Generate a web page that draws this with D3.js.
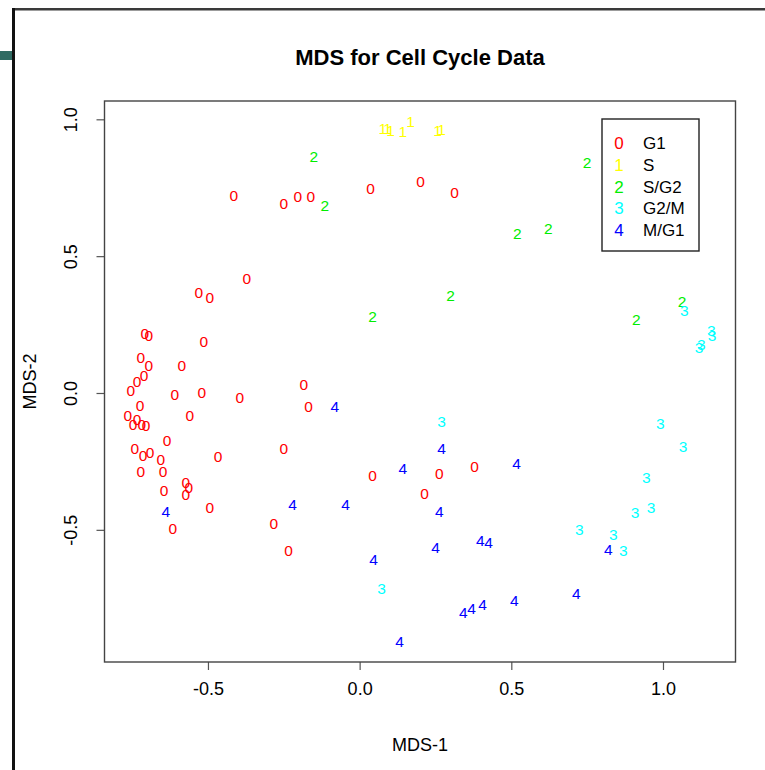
<!DOCTYPE html>
<html>
<head>
<meta charset="utf-8">
<script src="https://cdn.jsdelivr.net/npm/d3@7/dist/d3.min.js"></script>
<style>
  body { margin: 0; background: #ffffff; }
  text { font-family: "Liberation Sans", Arial, Helvetica, sans-serif; }
</style>
</head>
<body>
<svg id="chart" width="765" height="770"></svg>
<script>
// Cell-cycle phase codes, names and plotting colours
const phaseCodes  = ["0", "1", "2", "3", "4"];
const phaseNames  = ["G1", "S", "S/G2", "G2/M", "M/G1"];
const phaseColors = ["#ff0000", "#ffff00", "#00ee00", "#00ffff", "#0000ff"];

// MDS coordinates, one pair of arrays per phase
const g1Mds1 = [-0.415, -0.250, -0.204, -0.161, 0.036, 0.201, 0.313, -0.372, -0.530, -0.494,
                -0.708, -0.695, -0.514, -0.721, -0.695, -0.586, -0.711, -0.734, -0.754, -0.609,
                -0.520, -0.395, -0.184, -0.168, -0.724, -0.560, -0.764, -0.734, -0.747, -0.718,
                -0.704, -0.635, -0.741, -0.714, -0.691, -0.655, -0.467, -0.250, -0.721, -0.648,
                -0.573, -0.563, -0.573, -0.645, -0.494, -0.616, -0.283, -0.234, 0.043, 0.263,
                0.379, 0.214];
const g1Mds2 = [0.721, 0.692, 0.717, 0.717, 0.746, 0.772, 0.732, 0.418, 0.367, 0.349,
                0.217, 0.210, 0.188, 0.130, 0.100, 0.100, 0.064, 0.042, 0.009, -0.005,
                0.002, -0.016, 0.031, -0.049, -0.046, -0.082, -0.082, -0.097, -0.115, -0.115,
                -0.119, -0.173, -0.203, -0.228, -0.217, -0.243, -0.232, -0.203, -0.286, -0.286,
                -0.327, -0.345, -0.370, -0.356, -0.418, -0.495, -0.476, -0.575, -0.301, -0.294,
                -0.268, -0.367];

const sMds1 = [0.076, 0.092, 0.102, 0.142, 0.168, 0.257, 0.270];
const sMds2 = [0.965, 0.965, 0.958, 0.954, 0.991, 0.958, 0.962];

const sg2Mds1 = [-0.151, -0.115, 0.750, 0.520, 0.622, 0.300, 0.043, 1.063, 0.912];
const sg2Mds2 = [0.863, 0.684, 0.841, 0.582, 0.600, 0.356, 0.279, 0.334, 0.268];

const g2mMds1 = [1.070, 1.159, 1.162, 1.126, 1.119, 0.991, 1.066, 0.945, 0.961, 0.908,
                 0.724, 0.836, 0.869, 0.270, 0.072];
const g2mMds2 = [0.301, 0.228, 0.210, 0.177, 0.166, -0.111, -0.195, -0.308, -0.418, -0.436,
                 -0.498, -0.516, -0.575, -0.104, -0.714];

const mg1Mds1 = [-0.082, 0.270, 0.517, 0.142, -0.221, -0.046, -0.639, 0.263, 0.398, 0.425,
                 0.250, 0.046, 0.342, 0.369, 0.405, 0.510, 0.714, 0.820, 0.132];
const mg1Mds2 = [-0.049, -0.203, -0.257, -0.276, -0.407, -0.407, -0.432, -0.432, -0.538, -0.546,
                 -0.564, -0.608, -0.801, -0.786, -0.772, -0.757, -0.732, -0.571, -0.907];

// Axis ticks and their printed labels
const xTicks = [-0.5, 0.0, 0.5, 1.0];
const xTickLabels = ["-0.5", "0.0", "0.5", "1.0"];
const yTicks = [-0.5, 0.0, 0.5, 1.0];
const yTickLabels = ["-0.5", "0.0", "0.5", "1.0"];

const mds1ByPhase = [g1Mds1, sMds1, sg2Mds1, g2mMds1, mg1Mds1];
const mds2ByPhase = [g1Mds2, sMds2, sg2Mds2, g2mMds2, mg1Mds2];

const points = [];
mds1ByPhase.forEach((xs, k) => {
  xs.forEach((x, i) => points.push({ phase: k, x: x, y: mds2ByPhase[k][i] }));
});

// Plot region
const box = { left: 104.5, right: 735.5, top: 101, bottom: 662 };

// Axis ranges extended by 4% on each side
function padded(vals) {
  const [lo, hi] = d3.extent(vals);
  const p = (hi - lo) * 0.04;
  return [lo - p, hi + p];
}
const x = d3.scaleLinear().domain(padded(points.map(d => d.x))).range([box.left, box.right]);
const y = d3.scaleLinear().domain(padded(points.map(d => d.y))).range([box.bottom, box.top]);

const svg = d3.select("#chart");

// Slide frame
svg.append("rect").attr("x", 0).attr("y", 0).attr("width", 765).attr("height", 770).attr("fill", "#ffffff");
svg.append("rect").attr("x", 12).attr("y", 8).attr("width", 753).attr("height", 2.5).attr("fill", "#3a3a3a");
svg.append("rect").attr("x", 12).attr("y", 8).attr("width", 3).attr("height", 762).attr("fill", "#111111");
svg.append("rect").attr("x", 0).attr("y", 51).attr("width", 12).attr("height", 9).attr("fill", "#2f6b63");

// Title
svg.append("text")
  .attr("x", (box.left + box.right) / 2).attr("y", 57)
  .attr("text-anchor", "middle").attr("dy", "0.35em")
  .attr("font-size", 22).attr("font-weight", "bold").attr("fill", "#000")
  .text("MDS for Cell Cycle Data");

// Axes
const xAxis = svg.append("g")
  .attr("transform", `translate(0,${box.bottom})`)
  .call(d3.axisBottom(x).tickValues(xTicks).tickSize(8).tickPadding(12)
        .tickFormat((d, i) => xTickLabels[i]));
xAxis.select(".domain").remove();
xAxis.selectAll(".tick line").attr("stroke", "#555").attr("stroke-width", 1.2);
xAxis.selectAll(".tick text").attr("font-size", 18).attr("fill", "#000")
  .attr("font-family", "'Liberation Sans', Arial, sans-serif");

const yAxis = svg.append("g")
  .attr("transform", `translate(${box.left},0)`)
  .call(d3.axisLeft(y).tickValues(yTicks).tickSize(8).tickFormat((d, i) => yTickLabels[i]));
yAxis.select(".domain").remove();
yAxis.selectAll(".tick line").attr("stroke", "#555").attr("stroke-width", 1.2);
yAxis.selectAll(".tick text")
  .attr("font-size", 18).attr("fill", "#000")
  .attr("font-family", "'Liberation Sans', Arial, sans-serif")
  .attr("x", 0).attr("dy", "0.35em")
  .attr("text-anchor", "middle")
  .attr("transform", "translate(-34,0) rotate(-90)");

// Plot box
svg.append("rect")
  .attr("x", box.left).attr("y", box.top)
  .attr("width", box.right - box.left).attr("height", box.bottom - box.top)
  .attr("fill", "none").attr("stroke", "#444").attr("stroke-width", 1.4);

// Axis titles
svg.append("text")
  .attr("x", (box.left + box.right) / 2).attr("y", 745)
  .attr("text-anchor", "middle").attr("dy", "0.35em")
  .attr("font-size", 18).attr("fill", "#000").text("MDS-1");
svg.append("text")
  .attr("transform", `translate(30,${(box.top + box.bottom) / 2}) rotate(-90)`)
  .attr("text-anchor", "middle").attr("dy", "0.35em")
  .attr("font-size", 18).attr("fill", "#000").text("MDS-2");

// Points drawn as their phase code
svg.append("g").selectAll("text")
  .data(points)
  .join("text")
  .attr("x", d => x(d.x)).attr("y", d => y(d.y))
  .attr("text-anchor", "middle").attr("dy", "0.35em")
  .attr("font-size", 15.5)
  .attr("fill", d => phaseColors[d.phase])
  .text(d => phaseCodes[d.phase]);

// Legend
const legend = svg.append("g").attr("transform", "translate(602,119)");
legend.append("rect").attr("width", 97).attr("height", 132)
  .attr("fill", "#ffffff").attr("stroke", "#222").attr("stroke-width", 1.4);
const rows = legend.selectAll("g.row").data(phaseNames).join("g")
  .attr("class", "row")
  .attr("transform", (d, i) => `translate(0,${24 + i * 21.8})`);
rows.append("text").attr("x", 17).attr("dy", "0.35em")
  .attr("text-anchor", "middle").attr("font-size", 17)
  .attr("fill", (d, i) => phaseColors[i]).text((d, i) => phaseCodes[i]);
rows.append("text").attr("x", 41).attr("dy", "0.35em")
  .attr("font-size", 17).attr("fill", "#000").text(d => d);
</script>
</body>
</html>
